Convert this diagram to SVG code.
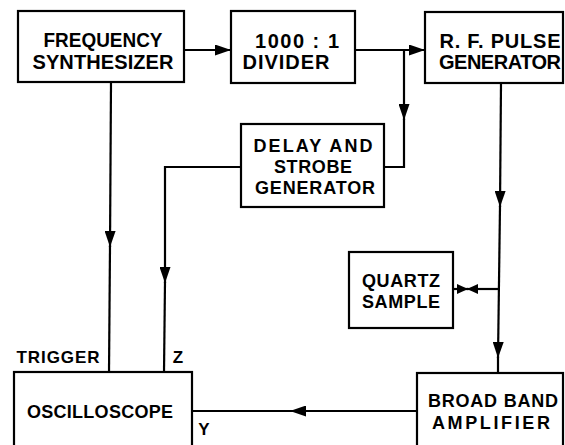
<svg xmlns="http://www.w3.org/2000/svg" width="565" height="445" viewBox="0 0 565 445">
<defs>
<style>
.box{fill:#fff;stroke:#000;stroke-width:2.2}
.ln{fill:none;stroke:#000;stroke-width:2.2}
.t{font-family:"Liberation Sans",Arial,sans-serif;font-weight:bold;fill:#000;text-anchor:middle}
.big{font-size:20px}
.mid{font-size:18px}
.sm{font-size:17px}
</style>
<marker id="arr" markerUnits="userSpaceOnUse" markerWidth="16" markerHeight="11" refX="16" refY="5.5" orient="auto">
<path d="M0,0 L16,5.5 L0,11 z" fill="#000"/>
</marker>
<marker id="arrs" markerUnits="userSpaceOnUse" markerWidth="11" markerHeight="10" refX="11" refY="5" orient="auto">
<path d="M0,0 L11,5 L0,10 z" fill="#000"/>
</marker>
</defs>
<rect width="565" height="445" fill="#fff"/>
<g id="connectors">
<line class="ln" x1="184" y1="50" x2="231" y2="50" marker-end="url(#arr)"/>
<line class="ln" x1="355" y1="50" x2="425" y2="50" marker-end="url(#arr)"/>
<line class="ln" x1="404" y1="50" x2="404" y2="120" marker-end="url(#arr)"/>
<polyline class="ln" points="404,119 404,167 384,167"/>
<polyline class="ln" points="241,167 165,167 165,283" marker-end="url(#arr)"/>
<line class="ln" x1="165" y1="282" x2="164" y2="372"/>
<line class="ln" x1="111" y1="82" x2="110" y2="247" marker-end="url(#arr)"/>
<line class="ln" x1="110" y1="246" x2="109" y2="372"/>
<line class="ln" x1="501" y1="83" x2="500" y2="207" marker-end="url(#arr)"/>
<line class="ln" x1="500" y1="206" x2="498" y2="358" marker-end="url(#arr)"/>
<line class="ln" x1="498" y1="357" x2="498" y2="373"/>
<line class="ln" x1="454" y1="289" x2="468" y2="289" marker-end="url(#arrs)"/>
<line class="ln" x1="498" y1="289" x2="467" y2="289" marker-end="url(#arrs)"/>
<line class="ln" x1="417" y1="411" x2="290" y2="411" marker-end="url(#arr)"/>
<line class="ln" x1="295" y1="411" x2="192" y2="411"/>
</g>
<g id="synth">
<rect class="box" x="18" y="11" width="166" height="71"/>
<text class="t big" x="103" y="47" textLength="119" lengthAdjust="spacingAndGlyphs">FREQUENCY</text>
<text class="t big" x="103" y="69" textLength="141">SYNTHESIZER</text>
</g>
<g id="divider">
<rect class="box" x="231" y="11" width="124" height="72"/>
<text class="t big" x="297" y="48" textLength="84">1000 : 1</text>
<text class="t big" x="286" y="69" textLength="87">DIVIDER</text>
</g>
<g id="rfpulse">
<rect class="box" x="425" y="12" width="138" height="71"/>
<text class="t big" x="500" y="48" textLength="121">R. F. PULSE</text>
<text class="t big" x="500" y="69" textLength="122">GENERATOR</text>
</g>
<g id="delay">
<rect class="box" x="241" y="124" width="143" height="83"/>
<text class="t mid" x="313" y="152" textLength="119">DELAY AND</text>
<text class="t mid" x="313" y="173" textLength="78">STROBE</text>
<text class="t mid" x="315" y="194" textLength="120">GENERATOR</text>
</g>
<g id="quartz">
<rect class="box" x="349" y="252" width="104" height="76"/>
<text class="t mid" x="401" y="287" textLength="78">QUARTZ</text>
<text class="t mid" x="401" y="308" textLength="78">SAMPLE</text>
</g>
<g id="oscilloscope">
<rect class="box" x="14" y="372" width="178" height="80"/>
<text class="t mid" x="100" y="418" textLength="146">OSCILLOSCOPE</text>
<text class="t sm" x="58" y="363" textLength="83">TRIGGER</text>
<text class="t sm" x="178" y="363">Z</text>
<text class="t sm" x="204" y="435">Y</text>
</g>
<g id="amplifier">
<rect class="box" x="417" y="373" width="146" height="80"/>
<text class="t mid" x="493" y="407" textLength="130">BROAD BAND</text>
<text class="t mid" x="491" y="429" textLength="118">AMPLIFIER</text>
</g>
</svg>
